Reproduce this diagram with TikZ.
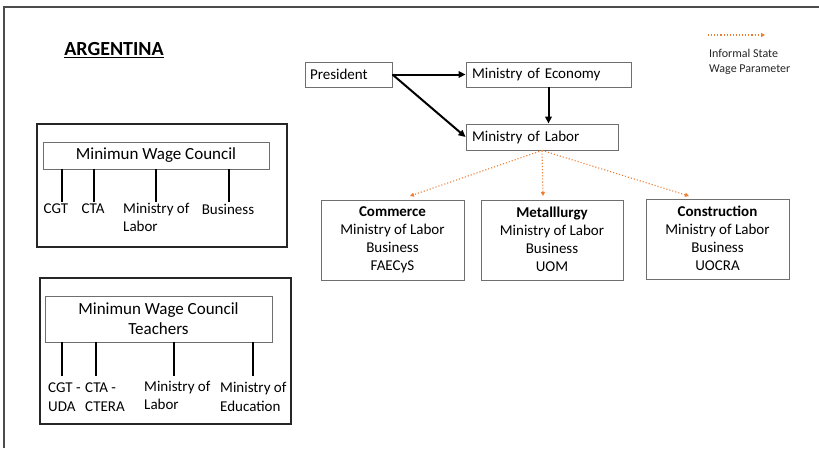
\documentclass[tikz,border=0pt]{standalone}
\usepackage{fontspec}
\setmainfont{Carlito}
\usetikzlibrary{arrows.meta,calc}
\definecolor{orng}{HTML}{ED7D31}
\definecolor{boxgray}{HTML}{6F6F6F}
\tikzset{
  lbl/.style={font=\fontsize{15}{18}\selectfont, inner sep=0pt},
  bx/.style={draw=boxgray, line width=0.9pt, inner sep=0pt, font=\fontsize{15}{18}\selectfont},
  lbox/.style={bx, align=left},
  arr/.style={line width=2pt, -{Triangle[length=7pt,width=6.5pt]}},
  inf/.style={orng, line width=1.1pt, dotted, -{Triangle[length=4pt,width=4pt]}},
  frm/.style={draw=black!85, line width=2.6pt, inner sep=0pt},
  stem/.style={line width=1.3pt, black}
}
\begin{document}
\begin{tikzpicture}[x=1pt,y=-1pt]
\useasboundingbox (0,0) rectangle (819,448);
\fill[white] (0,0) rectangle (819,448);
% page frame
\coordinate (pf1) at (4,448);
\coordinate (pf2) at (4,7);
\coordinate (pf3) at (819,7);
\draw[black!70, line width=1.5pt] (pf1) -- (pf2) -- (pf3);

% title
\node[inner sep=0pt, font=\fontsize{20}{22}\selectfont\bfseries] (title) at (114,50) {\underline{ARGENTINA}};

% legend
\coordinate (lg1) at (708,35);
\coordinate (lg2) at (765,35);
\draw[inf] (lg1) -- (lg2);
\node[anchor=north west, inner sep=0pt, align=left, text=black!85, font=\fontsize{12}{15}\selectfont] (legend) at (709,49) {Informal State\\Wage Parameter};

% top chart
\node[lbox, minimum width=87pt, minimum height=25pt, text width=77pt] (pres) at (348.5,74.5) {President};
\node[lbox, minimum width=165pt, minimum height=25pt, text width=153pt] (econ) at (548.5,74.5) {Ministry of Economy};
\node[lbox, minimum width=152pt, minimum height=26pt, text width=140pt] (labor) at (542,137) {Ministry of Labor};

\draw[arr] (pres.east) -- (econ.west);
\draw[arr] (pres.east) -- (labor.west);
\draw[arr] (econ.south) -- (econ.south |- labor.north);

\node[bx, minimum width=143pt, minimum height=80pt, align=center] (comm) at (392.5,240) {\textbf{Commerce}\\Ministry of Labor\\Business\\FAECyS};
\node[bx, minimum width=142pt, minimum height=80pt, align=center] (metal) at (552,240) {\textbf{Metalllurgy}\\Ministry of Labor\\Business\\UOM\vphantom{y}};
\node[bx, minimum width=143pt, minimum height=80pt, align=center] (constr) at (717.5,239.5) {\textbf{Construction}\\Ministry of Labor\\Business\\UOCRA\vphantom{y}};

\coordinate (t1) at (410,196);
\coordinate (t2) at (543,196);
\coordinate (t3) at (689,196);
\draw[inf] (labor.south) -- (t1);
\draw[inf] (labor.south) -- (t2);
\draw[inf] (labor.south) -- (t3);

% left box 1
\node[frm, minimum width=250pt, minimum height=123pt] (frame1) at (162,185.5) {};
\node[bx, minimum width=226pt, minimum height=27pt, font=\fontsize{17}{20}\selectfont] (mwc) at (156,155.5) {Minimun Wage Council};
\coordinate (a1) at (62,202);
\coordinate (a2) at (94,202);
\coordinate (a3) at (156,202);
\coordinate (a4) at (229,202);
\draw[stem] (a1 |- mwc.south) -- (a1);
\draw[stem] (a2 |- mwc.south) -- (a2);
\draw[stem] (a3 |- mwc.south) -- (a3);
\draw[stem] (a4 |- mwc.south) -- (a4);
\node[lbl] (cgt) at (56,209) {CGT};
\node[lbl] (cta) at (93,209) {CTA};
\node[lbl, anchor=north west, align=left] (mol1) at (123,203) {Ministry of\\Labor};
\node[lbl] (bus) at (228,209) {Business};

% left box 2
\node[frm, minimum width=251pt, minimum height=146pt] (frame2) at (165.5,351) {};
\node[bx, minimum width=227pt, minimum height=46pt, align=center, font=\fontsize{17}{20}\selectfont] (mwct) at (158.5,319) {Minimun Wage Council\\Teachers};
\coordinate (b1) at (62,376);
\coordinate (b2) at (96,376);
\coordinate (b3) at (174,376);
\coordinate (b4) at (253,376);
\draw[stem] (b1 |- mwct.south) -- (b1);
\draw[stem] (b2 |- mwct.south) -- (b2);
\draw[stem] (b3 |- mwct.south) -- (b3);
\draw[stem] (b4 |- mwct.south) -- (b4);
\node[lbl, anchor=north west, align=left, font=\fontsize{15}{19}\selectfont] (cgtuda) at (48,383) {CGT -\\UDA};
\node[lbl, anchor=north west, align=left, font=\fontsize{15}{19}\selectfont] (ctactera) at (85,383) {CTA -\\CTERA};
\node[lbl, anchor=north west, align=left] (mol2) at (144,381) {Ministry of\\Labor};
\node[lbl, anchor=north west, align=left, font=\fontsize{15}{19}\selectfont] (moe) at (220,382) {Ministry of\\Education};
\end{tikzpicture}
\end{document}
